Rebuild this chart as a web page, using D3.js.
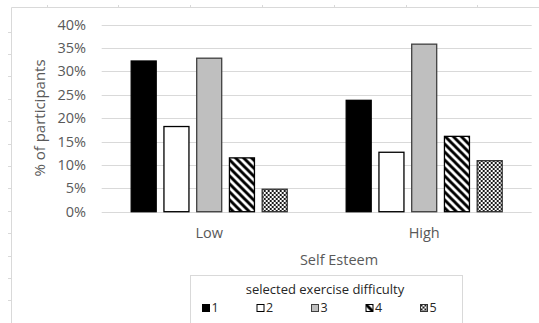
<!DOCTYPE html>
<html>
<head>
<meta charset="utf-8">
<script src="https://cdn.jsdelivr.net/npm/d3@7"></script>
<style>
  html, body { margin: 0; padding: 0; background: #fff; }
  svg { display: block; }
  text { font-family: "Open Sans", "Liberation Sans", sans-serif; }
</style>
</head>
<body>
<svg id="chart" width="539" height="323"></svg>
<script>
const categories = ["Low", "High"];
const seriesNames = ["1", "2", "3", "4", "5"];
const lowValues  = [0.322, 0.182, 0.328, 0.115, 0.048];
const highValues = [0.238, 0.127, 0.358, 0.161, 0.109];
const yTicks = [0, 0.05, 0.10, 0.15, 0.20, 0.25, 0.30, 0.35, 0.40];
const yTitle = "% of participants";
const xTitle = "Self Esteem";
const legendTitle = "selected exercise difficulty";

const valuesByCat = { Low: lowValues, High: highValues };

const svg = d3.select("#chart");
const W = 539, H = 323;
const plot = { left: 101.7, right: 531.7, top: 24.5, bottom: 211.7 };

// patterns
const defs = svg.append("defs");
const hatch = defs.append("pattern").attr("id", "hatch")
  .attr("patternUnits", "userSpaceOnUse").attr("width", 8).attr("height", 8);
hatch.append("rect").attr("width", 8).attr("height", 8).attr("fill", "#fff");
hatch.append("path").attr("d", "M-2,-2 L10,10 M-2,6 L2,10 M6,-2 L10,2")
  .attr("stroke", "#000").attr("stroke-width", 2.9);
const checker = defs.append("pattern").attr("id", "checker")
  .attr("patternUnits", "userSpaceOnUse").attr("width", 4).attr("height", 4);
checker.append("rect").attr("width", 4).attr("height", 4).attr("fill", "#fff");
checker.append("rect").attr("x", 0).attr("y", 0).attr("width", 2).attr("height", 2).attr("fill", "#1a1a1a");
checker.append("rect").attr("x", 2).attr("y", 2).attr("width", 2).attr("height", 2).attr("fill", "#1a1a1a");

const fills = ["#000000", "#ffffff", "#bfbfbf", "url(#hatch)", "url(#checker)"];
const strokes = ["#000000", "#000000", "#404040", "#000000", "#333333"];

// decorative frame (document ruler-like lines)
const frame = svg.append("g").attr("stroke", "#d9d9d9").attr("fill", "none");
frame.append("line").attr("x1", 11.5).attr("x2", W).attr("y1", 7.5).attr("y2", 7.5);
frame.append("line").attr("x1", 11.5).attr("x2", 11.5).attr("y1", 7.5).attr("y2", H);
d3.range(46.5, W, 71.8).forEach(x => {
  frame.append("line").attr("x1", Math.round(x) + 0.5).attr("x2", Math.round(x) + 0.5)
    .attr("y1", 5).attr("y2", 7.5);
});
d3.range(31.5, H, 22.4).forEach(y => {
  frame.append("line").attr("x1", 8).attr("x2", 11.5)
    .attr("y1", Math.round(y) + 0.5).attr("y2", Math.round(y) + 0.5);
});

const x = d3.scaleBand().domain(categories).range([plot.left, plot.right]).padding(0);
const xs = d3.scaleBand().domain(seriesNames)
  .range([x.bandwidth() / 2 - 78.5, x.bandwidth() / 2 + 78.5]).paddingInner(0.206).paddingOuter(0);
const y = d3.scaleLinear().domain([0, 0.4]).range([plot.bottom, plot.top]);

// gridlines
svg.append("g").selectAll("line").data(yTicks).join("line")
  .attr("x1", plot.left).attr("x2", plot.right)
  .attr("y1", d => Math.round(y(d)) + 0.5).attr("y2", d => Math.round(y(d)) + 0.5)
  .attr("stroke", "#d9d9d9").attr("stroke-width", 1);

// y axis labels
const yAxis = d3.axisLeft(y).tickValues(yTicks).tickFormat(d3.format(".0%")).tickSize(0).tickPadding(0);
const yg = svg.append("g").attr("transform", `translate(86,0)`).call(yAxis);
yg.select(".domain").remove();
yg.selectAll("text").attr("fill", "#595959").attr("font-size", 14.5)
  .attr("font-family", "'Open Sans', sans-serif");

// bars
const groups = svg.append("g").selectAll("g").data(categories).join("g")
  .attr("transform", d => `translate(${x(d)},0)`);
groups.selectAll("rect").data(c => valuesByCat[c].map((v, i) => ({ v, i, s: seriesNames[i] })))
  .join("rect")
  .attr("x", d => xs(d.s) + 0.5)
  .attr("width", xs.bandwidth() - 1)
  .attr("y", d => y(d.v))
  .attr("height", d => y(0) - y(d.v))
  .attr("fill", d => fills[d.i])
  .attr("stroke", d => strokes[d.i])
  .attr("stroke-width", 1.3);

// x axis labels
const xAxis = d3.axisBottom(x).tickSize(0).tickPadding(0);
const xg = svg.append("g").attr("transform", `translate(0,228)`).call(xAxis);
xg.select(".domain").remove();
xg.selectAll("text").attr("fill", "#595959").attr("font-size", 14.5)
  .attr("font-family", "'Open Sans', sans-serif");

// axis titles
svg.append("text").attr("x", 339).attr("y", 265).attr("text-anchor", "middle")
  .attr("fill", "#595959").attr("font-size", 14.5).text(xTitle);
svg.append("text").attr("transform", "translate(45,118) rotate(-90)").attr("text-anchor", "middle")
  .attr("fill", "#595959").attr("font-size", 15).text(yTitle);

// legend
const lg = svg.append("g");
lg.append("rect").attr("x", 190.5).attr("y", 275.5).attr("width", 272).attr("height", 60)
  .attr("fill", "#fff").attr("stroke", "#d9d9d9");
lg.append("text").attr("x", 325).attr("y", 294).attr("text-anchor", "middle")
  .attr("fill", "#262626").attr("font-size", 13).text(legendTitle);
const legX = d3.scalePoint().domain(seriesNames).range([202.5, 420.5]);
const items = lg.selectAll("g.item").data(seriesNames).join("g").attr("class", "item")
  .attr("transform", d => `translate(${legX(d)},304.5)`);
items.append("rect").attr("width", 7).attr("height", 7)
  .attr("fill", (d, i) => fills[i]).attr("stroke", (d, i) => strokes[i]).attr("stroke-width", 1);
items.append("text").attr("x", 9).attr("y", 7.5).attr("fill", "#262626").attr("font-size", 12.5)
  .text(d => d);
</script>
</body>
</html>
